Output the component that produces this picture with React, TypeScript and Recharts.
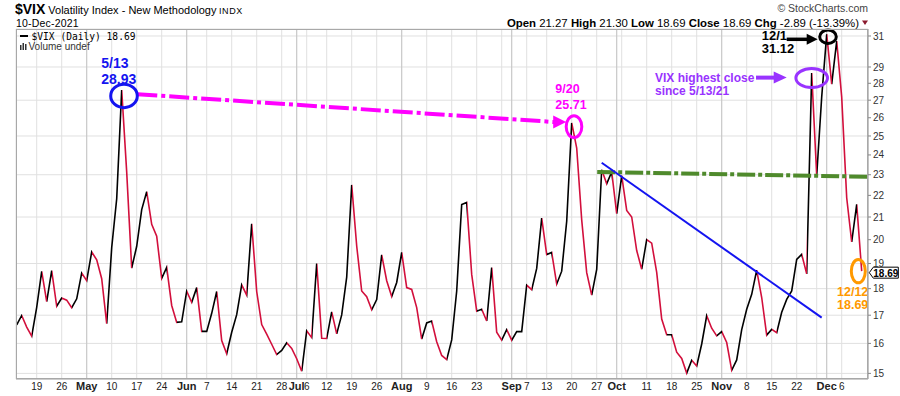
import React from 'react';
import { LineChart, Line, XAxis, YAxis, CartesianGrid, ReferenceLine, ReferenceDot } from 'recharts';

// VIX daily closes, 13-Apr-2021 .. 10-Dec-2021, one pair of arrays per month
const aprDays = [13, 14, 15, 16, 19, 20, 21, 22, 23, 26, 27, 28, 29, 30];
const aprClose = [16.65, 16.99, 16.57, 16.25, 17.29, 18.68, 17.5, 18.71, 17.33, 17.64, 17.56, 17.28, 17.61, 18.61];
const mayDays = [3, 4, 5, 6, 7, 10, 11, 12, 13, 14, 17, 18, 19, 20, 21, 24, 25, 26, 27, 28];
const mayClose = [18.31, 19.48, 19.15, 18.39, 16.69, 19.66, 21.84, 27.59, 23.13, 18.81, 19.72, 21.34, 22.18, 20.67, 20.15, 18.4, 18.84, 17.36, 16.74, 16.76];
const junDays = [1, 2, 3, 4, 7, 8, 9, 10, 11, 14, 15, 16, 17, 18, 21, 22, 23, 24, 25, 28, 29, 30];
const junClose = [17.9, 17.48, 18.04, 16.42, 16.42, 17.07, 17.89, 16.1, 15.65, 16.39, 17.02, 18.15, 17.75, 20.7, 17.89, 16.66, 16.32, 15.97, 15.62, 15.76, 16.02, 15.83];
const julDays = [1, 2, 6, 7, 8, 9, 12, 13, 14, 15, 16, 19, 20, 21, 22, 23, 26, 27, 28, 29, 30];
const julClose = [15.48, 15.07, 16.44, 16.2, 19.0, 16.18, 16.17, 17.12, 16.33, 17.01, 18.45, 22.5, 19.73, 17.91, 17.69, 17.2, 17.58, 19.36, 18.31, 17.7, 18.24];
const augDays = [2, 3, 4, 5, 6, 9, 10, 11, 12, 13, 16, 17, 18, 19, 20, 23, 24, 25, 26, 27, 30, 31];
const augClose = [19.46, 18.04, 17.97, 17.28, 16.15, 16.72, 16.79, 16.06, 15.59, 15.45, 16.12, 17.91, 21.57, 21.67, 18.56, 17.15, 17.22, 16.79, 18.84, 16.39, 16.11, 16.48];
const sepDays = [1, 2, 3, 7, 8, 9, 10, 13, 14, 15, 16, 17, 20, 21, 22, 23, 24, 27, 28, 29, 30];
const sepClose = [16.11, 16.41, 16.41, 18.14, 17.96, 18.8, 20.95, 19.37, 19.46, 18.18, 18.69, 20.81, 25.71, 24.36, 20.87, 18.63, 17.75, 18.76, 23.25, 22.56, 23.14];
const octDays = [1, 4, 5, 6, 7, 8, 11, 12, 13, 14, 15, 18, 19, 20, 21, 22, 25, 26, 27, 28, 29];
const octClose = [21.15, 22.96, 21.3, 21.0, 19.54, 18.77, 20.0, 19.85, 18.64, 16.86, 16.3, 16.3, 15.7, 15.49, 15.01, 15.43, 15.24, 15.98, 16.98, 16.53, 16.26];
const novDays = [1, 2, 3, 4, 5, 8, 9, 10, 11, 12, 15, 16, 17, 18, 19, 22, 23, 24, 26, 29, 30];
const novClose = [16.41, 16.03, 15.1, 15.44, 16.48, 17.22, 17.78, 18.73, 17.66, 16.29, 16.49, 16.37, 17.11, 17.59, 17.91, 19.17, 19.38, 18.58, 28.62, 22.96, 27.19];
const decDays = [1, 2, 3, 6, 7, 8, 9, 10];
const decClose = [31.12, 27.95, 30.67, 27.18, 21.89, 19.9, 21.58, 18.69];

const monthNames = ['Apr', 'May', 'Jun', 'Jul', 'Aug', 'Sep', 'Oct', 'Nov', 'Dec'];
const monthDays = [aprDays, mayDays, junDays, julDays, augDays, sepDays, octDays, novDays, decDays];
const monthCloses = [aprClose, mayClose, junClose, julClose, augClose, sepClose, octClose, novClose, decClose];

const tickDates = ['Apr 19', 'Apr 26', 'May 3', 'May 10', 'May 17', 'May 24', 'Jun 1', 'Jun 7', 'Jun 14', 'Jun 21', 'Jun 28',
  'Jul 1', 'Jul 6', 'Jul 12', 'Jul 19', 'Jul 26', 'Aug 2', 'Aug 9', 'Aug 16', 'Aug 23', 'Aug 30', 'Sep 1', 'Sep 7', 'Sep 13',
  'Sep 20', 'Sep 27', 'Oct 1', 'Oct 4', 'Oct 11', 'Oct 18', 'Oct 25', 'Nov 1', 'Nov 8', 'Nov 15', 'Nov 22', 'Nov 29', 'Dec 1', 'Dec 6'];
const tickLabels = ['19', '26', 'May', '10', '17', '24', 'Jun', '7', '14', '21', '28', 'Jul', '6', '12', '19', '26', 'Aug', '9',
  '16', '23', '', 'Sep', '7', '13', '20', '27', 'Oct', '', '11', '18', '25', 'Nov', '8', '15', '22', '', 'Dec', '6'];
const yTicks = [15, 16, 17, 18, 19, 20, 21, 22, 23, 24, 25, 26, 27, 28, 29, 30, 31];

const data = monthNames.flatMap((m, mi) => monthDays[mi].map((d, k) => ({ date: `${m} ${d}`, close: monthCloses[mi][k] })))
  .map((row, i) => ({ ...row, i }));
const idxOf = (date: string) => data.findIndex((r) => r.date === date);
const tickIdx = tickDates.map(idxOf);
const labelByIdx = new Map(tickIdx.map((t, k) => [t, tickLabels[k]]));
const monthTicks = tickIdx.filter((t, k) => monthNames.includes(tickLabels[k]));
const last = data[data.length - 1];
const idx = (date: string) => idxOf(date);
const val = (date: string) => data[idxOf(date)].close;

const SANS = '"Liberation Sans", Arial, Helvetica, sans-serif';
const MONO = '"DejaVu Sans Mono", "Liberation Mono", monospace';
const RED = '#d20f3c';
const BLUE = '#1414f0';
const MAGENTA = '#ff00ff';
const GREEN = '#4f8a2c';
const PURPLE = '#9933ff';
const ORANGE = '#ff9900';

// segment colours: black when the close rises, red when it falls
const n = data.length;
const stops = data.slice(1).flatMap((r, k) => {
  const c = r.close < data[k].close ? RED : '#000';
  return [
    <stop key={`a${k}`} offset={k / (n - 1)} stopColor={c} />,
    <stop key={`b${k}`} offset={(k + 1) / (n - 1)} stopColor={c} />,
  ];
});

const XTick = ({ x, y, payload }: any) => {
  const lbl = labelByIdx.get(payload.value) || '';
  const bold = monthNames.includes(lbl);
  return (
    <text x={x} y={y + 11} textAnchor="middle" fontSize={bold ? 11 : 10} fontWeight={bold ? 700 : 400} fill="#222" fontFamily={SANS}>
      {lbl}
    </text>
  );
};

const arrowHead = (tx: number, ty: number, len: number, half: number, fill: string) => (
  <polygon points={`${tx},${ty} ${tx - len},${ty - half} ${tx - len},${ty + half}`} fill={fill} />
);

const t = (x: number, y: number, s: string, fill: string, size: number) => (
  <text x={x} y={y} fill={fill} fontSize={size} fontWeight={700} fontFamily={SANS}>{s}</text>
);

export default function App() {
  return (
    <div style={{ position: 'absolute', left: 0, top: 0, width: 900, height: 396, background: '#fff' }}>
      <LineChart width={900} height={396} data={data} margin={{ top: 29, right: 0, left: 16, bottom: 0 }}>
        <defs>
          <linearGradient id="vixStroke" x1="0" y1="0" x2="1" y2="0">{stops}</linearGradient>
        </defs>
        <CartesianGrid stroke="#e0e0e0" />
        <XAxis dataKey="i" type="number" domain={[-0.14, 170.26]} allowDataOverflow ticks={tickIdx} interval={0}
          tick={<XTick />} tickLine={false} tickSize={0} tickMargin={0} height={17} axisLine={{ stroke: '#aaa' }} />
        <YAxis orientation="right" type="number" scale="log" domain={[14.82, 31.47]} allowDataOverflow ticks={yTicks}
          width={32} tickSize={3} tickMargin={2} tickLine={{ stroke: '#888' }} axisLine={{ stroke: '#999' }}
          tick={{ fontSize: 10, fill: '#333', fontFamily: SANS }} />
        {monthTicks.map((m) => (
          <ReferenceLine key={m} x={m} stroke="#c6c6c6" />
        ))}
        <Line type="linear" dataKey="close" stroke="url(#vixStroke)" strokeWidth={1.6} dot={false} activeDot={false}
          isAnimationActive={false} />

        {/* May peak -> Sep peak, dash-dot */}
        <ReferenceLine segment={[{ x: 24.12, y: 27.35 }, { x: 107.6, y: 25.76 }]} stroke={MAGENTA} strokeWidth={4}
          strokeDasharray="20 4 4 4" ifOverflow="visible" />
        <ReferenceDot x={109.9} y={25.76} r={1} ifOverflow="visible"
          shape={(p: any) => arrowHead(p.cx, p.cy, 13, 6.5, MAGENTA)} />
        {/* horizontal resistance */}
        <ReferenceLine segment={[{ x: 116.1, y: 23.14 }, { x: 170.2, y: 22.9 }]} stroke={GREEN} strokeWidth={4}
          strokeDasharray="18 3 4 3" ifOverflow="visible" />
        {/* falling trend line */}
        <ReferenceLine segment={[{ x: 117, y: 23.6 }, { x: 161, y: 16.91 }]} stroke={BLUE} strokeWidth={2} ifOverflow="visible" />

        <ReferenceDot x={idx('May 12')} y={val('May 12')} r={1} ifOverflow="visible" shape={(p: any) => (
          <g>
            <ellipse cx={p.cx + 2.3} cy={p.cy + 5.8} rx={13.3} ry={11.7} fill="none" stroke={BLUE} strokeWidth={3} />
            {t(p.cx - 20.4, p.cy - 22.5, '5/13', BLUE, 14)}
            {t(p.cx - 20.4, p.cy - 5.9, '28.93', BLUE, 14)}
          </g>
        )} />
        <ReferenceDot x={idx('Sep 20')} y={val('Sep 20')} r={1} ifOverflow="visible" shape={(p: any) => (
          <g>
            <ellipse cx={p.cx + 2.3} cy={p.cy + 3.7} rx={7.8} ry={11} fill="none" stroke={MAGENTA} strokeWidth={3} />
            {t(p.cx - 16.4, p.cy - 30.3, '9/20', MAGENTA, 12.5)}
            {t(p.cx - 16.4, p.cy - 13.7, '25.71', MAGENTA, 12.5)}
          </g>
        )} />
        <ReferenceDot x={idx('Nov 26')} y={val('Nov 26')} r={1} ifOverflow="visible" shape={(p: any) => (
          <g>
            <ellipse cx={p.cx} cy={p.cy + 5} rx={15.8} ry={9.5} fill="none" stroke={PURPLE} strokeWidth={3} />
            <line x1={p.cx - 55.7} y1={p.cy + 4.5} x2={p.cx - 36} y2={p.cy + 4.5} stroke={PURPLE} strokeWidth={4} />
            {arrowHead(p.cx - 25, p.cy + 4.5, 13, 6, PURPLE)}
            {t(p.cx - 156.7, p.cy + 9.3, 'VIX highest close', PURPLE, 12)}
            {t(p.cx - 156.7, p.cy + 22, 'since 5/13/21', PURPLE, 12)}
          </g>
        )} />
        <ReferenceDot x={idx('Dec 1')} y={val('Dec 1')} r={1} ifOverflow="visible" shape={(p: any) => (
          <g>
            <ellipse cx={p.cx + 1.3} cy={p.cy + 2.5} rx={8.3} ry={6.7} fill="none" stroke="#000" strokeWidth={3} />
            <line x1={p.cx - 40} y1={p.cy + 5.1} x2={p.cx - 19} y2={p.cy + 5.1} stroke="#000" strokeWidth={3.5} />
            {arrowHead(p.cx - 9, p.cy + 5.1, 11, 5.5, '#000')}
            {t(p.cx - 65, p.cy + 5.8, '12/1', '#000', 13)}
            {t(p.cx - 65, p.cy + 19.1, '31.12', '#000', 13)}
          </g>
        )} />
        <ReferenceDot x={last.i} y={last.close} r={1} ifOverflow="visible" shape={(p: any) => (
          <g>
            <ellipse cx={p.cx - 3.4} cy={p.cy} rx={7} ry={11.7} fill="none" stroke={ORANGE} strokeWidth={3} />
            {t(p.cx - 24.7, p.cy + 25, '12/12', ORANGE, 12.5)}
            {t(p.cx - 24.7, p.cy + 38, last.close.toFixed(2), ORANGE, 12.5)}
            <polygon
              points={`${p.cx + 7.6},${p.cy + 1.5} ${p.cx + 11.6},${p.cy - 4} ${p.cx + 36.6},${p.cy - 4} ${p.cx + 36.6},${p.cy + 7} ${p.cx + 11.6},${p.cy + 7}`}
              fill="#fff" stroke="#000" strokeWidth={1} />
            <text x={p.cx + 24.1} y={p.cy + 5.6} textAnchor="middle" fontSize={10} fontWeight={700} fontFamily={SANS} fill="#000">
              {last.close.toFixed(2)}
            </text>
          </g>
        )} />
      </LineChart>

      <svg width={900} height={396} style={{ position: 'absolute', left: 0, top: 0, pointerEvents: 'none' }}>
        <rect x={16.5} y={29.5} width={851} height={349} fill="none" stroke="#a8a8a8" />
        <text x={15} y={14} fontSize={14} fontWeight={700} fontFamily={SANS} fill="#000">$VIX</text>
        <text x={48.3} y={13.5} fontSize={11} fontFamily={SANS} fill="#000">Volatility Index - New Methodology</text>
        <text x={219} y={13.5} fontSize={9} fontFamily={SANS} fill="#000" letterSpacing={0.6}>INDX</text>
        <text x={16} y={26.5} fontSize={10.5} fontFamily={SANS} fill="#000" letterSpacing={0.2}>10-Dec-2021</text>
        <text x={868} y={12} textAnchor="end" fontSize={10.5} fontFamily={SANS} fill="#444">© StockCharts.com</text>
        <text x={859} y={26.5} textAnchor="end" fontSize={11.4} fontFamily={SANS} fill="#000">
          <tspan fontWeight={700}>Open</tspan> 21.27 <tspan fontWeight={700}>High</tspan> 21.30{' '}
          <tspan fontWeight={700}>Low</tspan> 18.69 <tspan fontWeight={700}>Close</tspan> 18.69{' '}
          <tspan fontWeight={700}>Chg</tspan> -2.89 (-13.39%)
        </text>
        <polygon points="862,20.5 868,20.5 865,25" fill="#8b1a2e" />
        <line x1={20} y1={36} x2={28} y2={36} stroke="#000" strokeWidth={2} />
        <text x={31.5} y={39.5} fontSize={9.6} fontFamily={MONO} fill="#000">$VIX (Daily) 18.69</text>
        <rect x={20} y={45} width={1.5} height={5} fill="#333" />
        <rect x={22.5} y={43} width={1.5} height={7} fill="#333" />
        <rect x={25} y={44} width={1.5} height={6} fill="#333" />
        <text x={28.5} y={50} fontSize={10} fontFamily={SANS} fill="#333">Volume undef</text>
      </svg>
    </div>
  );
}
